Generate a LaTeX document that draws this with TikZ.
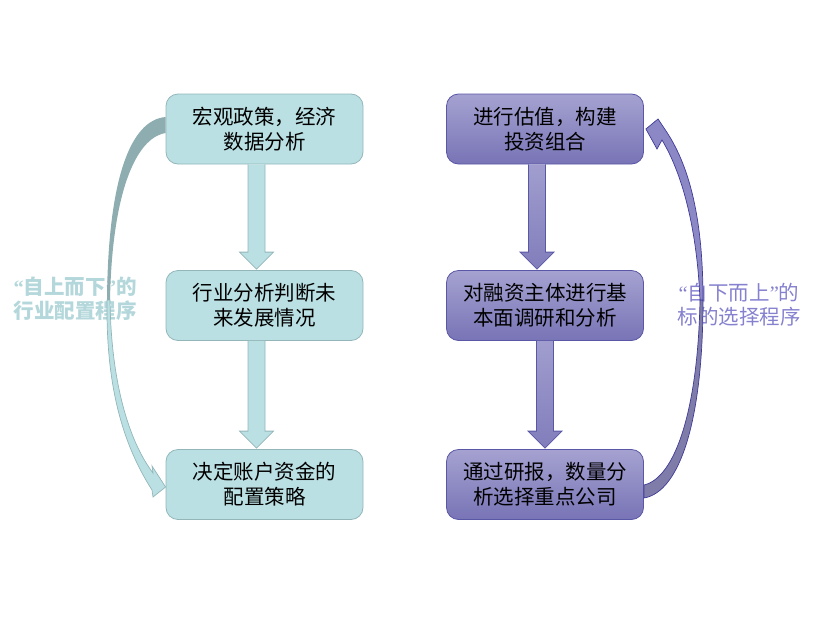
\documentclass[tikz,border=0pt]{standalone}
\usepackage{fontspec}
\newfontfamily\cjk{Noto Sans CJK SC}
\newfontfamily\qfont{Liberation Serif}
\newcommand\myoq{{\qfont “}}
\newcommand\mycq{{\qfont ”}}
\usetikzlibrary{calc}
\definecolor{tealfill}{HTML}{BBE0E3}
\definecolor{tealline}{HTML}{93B6B9}
\definecolor{tealback}{HTML}{8EADB0}
\definecolor{tealtext}{HTML}{B3D7DA}
\definecolor{purtop}{HTML}{A5A2D1}
\definecolor{purbot}{HTML}{7874B6}
\definecolor{purline}{HTML}{5A57A6}
\definecolor{purarrow}{HTML}{8C88C6}
\definecolor{purdark}{HTML}{3E3B98}
\definecolor{purback}{HTML}{7F7CAA}
\definecolor{purtext}{HTML}{8581CF}
\tikzset{
  boxbase/.style={rounded corners=12pt, minimum width=197pt, minimum height=70pt,
    align=center, font=\cjk\fontsize{20.5}{25}\selectfont, text=black, line width=0.8pt, inner sep=0pt},
  lbox/.style={boxbase, fill=tealfill, draw=tealline},
  rbox/.style={boxbase, top color=purtop, bottom color=purbot, draw=purline},
  larrow/.style={fill=tealfill, draw=tealline, line width=0.8pt, line join=miter},
  rarrow/.style={top color=purtop!90!purbot, bottom color=purbot!80!purtop, draw=purline, line width=0.8pt, line join=miter},
  sidelabel/.style={align=center, font=\cjk\fontsize{20.5}{24}\selectfont, inner sep=0pt}
}
\begin{document}
\begin{tikzpicture}[x=1pt,y=-1pt]
\useasboundingbox (0,0) rectangle (827,616);
% boxes
\node[lbox] (b1) at (264.5,129) {宏观政策，经济\\数据分析};
\node[lbox] (b2) at (264.5,305.5) {行业分析判断未\\来发展情况};
\node[lbox] (b3) at (264.5,484.5) {决定账户资金的\\配置策略};
\node[rbox] (b4) at (545,129) {进行估值，构建\\投资组合};
\node[rbox] (b5) at (545,305.5) {对融资主体进行基\\本面调研和分析};
\node[rbox] (b6) at (545,484.5) {通过研报，数量分\\析选择重点公司};
% down block arrows
\coordinate (l1t) at ($(b1.south)+(-8,0)$);
\coordinate (l1b) at ($(b2.north)+(-8,-1)$);
\coordinate (l2t) at ($(b2.south)+(-8,0)$);
\coordinate (l2b) at ($(b3.north)+(-8,-1)$);
\coordinate (r1t) at ($(b4.south)+(-8,0)$);
\coordinate (r1b) at ($(b5.north)+(-8,-1)$);
\coordinate (r2t) at ($(b5.south)+(0,0)$);
\coordinate (r2b) at ($(b6.north)+(0,-1)$);
\foreach \t/\b/\s in {l1t/l1b/larrow,l2t/l2b/larrow,r1t/r1b/rarrow,r2t/r2b/rarrow}{
  \draw[\s] ($(\t)+(-8.5,0)$) -- ($(\b)+(-8.5,-17)$) -- ($(\b)+(-17,-17)$) -- (\b)
    -- ($(\b)+(17,-17)$) -- ($(\b)+(8.5,-17)$) -- ($(\t)+(8.5,0)$);
}
% side labels
\node[sidelabel, text=tealtext] (ll) at (75,299) {\bfseries \myoq{}自上而下\mycq{}的\\\bfseries 行业配置程序};
\node[sidelabel, text=purtext] (rl) at (739,305) {\myoq{}自下而上\mycq{}的\\标的选择程序};
% left curved arrow
\fill[tealback] ($(b1.west)+(0,-12)$) .. controls (130,120) and (108,180) .. (107,300)
  -- (110,300) .. controls (112,195) and (135,138) .. ($(b1.west)+(0,4)$) -- cycle;
\filldraw[fill=tealfill, draw=tealline, line width=0.7pt, line join=miter]
  (107,300) .. controls (106,380) and (120,440) .. (152,490) -- (153,497)
  -- ($(b3.west)+(0,2.5)$) -- (152,466) -- (153,473)
  .. controls (128,440) and (111,380) .. (110,300) -- cycle;
% right curved arrow
\filldraw[fill=purback, draw=purdark, line width=0.7pt]
  ($(b6.east)+(0,0.5)$) .. controls (675,478) and (698,410) .. (700,300)
  -- (703,300) .. controls (703,420) and (680,492) .. ($(b6.east)+(0,13.5)$) -- cycle;
\filldraw[fill=purarrow, draw=purdark, line width=0.7pt, line join=miter]
  (703,300) .. controls (703,220) and (690,165) .. (664,128) -- (658,119)
  -- ($(b4.east)+(2,0)$) -- (657,149) -- (662,140)
  .. controls (683,175) and (697,230) .. (700,300) -- cycle;
\end{tikzpicture}
\end{document}
